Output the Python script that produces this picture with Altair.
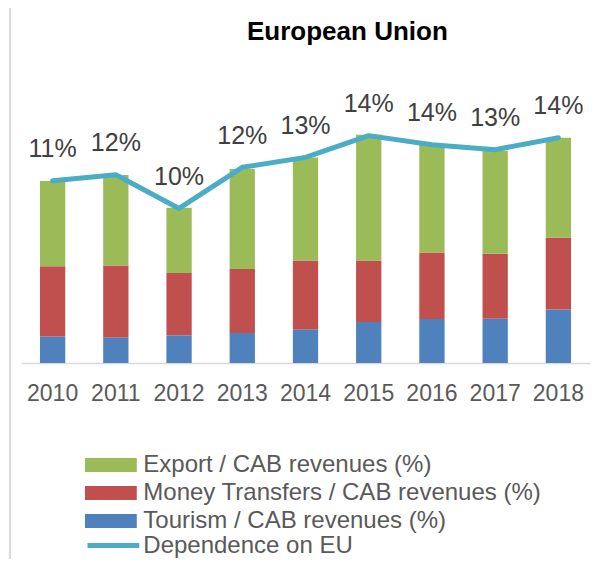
import altair as alt
import pandas as pd

chart_title = "European Union"
years = ["2010", "2011", "2012", "2013", "2014", "2015", "2016", "2017", "2018"]
tourism = [1.66, 1.60, 1.73, 1.88, 2.10, 2.56, 2.75, 2.77, 3.35]
money_transfers = [4.38, 4.50, 3.90, 4.00, 4.31, 3.85, 4.16, 4.06, 4.50]
export = [5.34, 5.65, 4.08, 6.25, 6.44, 7.86, 6.78, 6.44, 6.23]
dependence = [11.39, 11.77, 9.66, 12.23, 12.85, 14.21, 13.64, 13.33, 14.08]

series_names = [
    "Export / CAB revenues (%)",
    "Money Transfers / CAB revenues (%)",
    "Tourism / CAB revenues (%)",
]
series_colors = ["#9bbb59", "#c0504d", "#4f81bd"]
line_name = "Dependence on EU"
line_color = "#4bacc6"

rows = []
for i, yr in enumerate(years):
    rows.append({"year": yr, "series": series_names[2], "value": tourism[i], "ord": 0})
    rows.append({"year": yr, "series": series_names[1], "value": money_transfers[i], "ord": 1})
    rows.append({"year": yr, "series": series_names[0], "value": export[i], "ord": 2})
bars_df = pd.DataFrame(rows)
line_df = pd.DataFrame({"year": years, "dep": dependence, "name": [line_name] * len(years)})
title_df = pd.DataFrame({"t": [chart_title]})

FONT = "Liberation Sans"

x_enc = alt.X(
    "year:N",
    sort=years,
    scale=alt.Scale(paddingInner=0.6, paddingOuter=0.3),
    axis=alt.Axis(
        title=None, labelAngle=0, ticks=False, grid=False,
        domainColor="#d9d9d9", domainWidth=1.5,
        labelFontSize=23, labelColor="#595959", labelFont=FONT,
        labelPadding=37, labelBaseline="alphabetic",
    ),
)
y_scale = alt.Scale(domain=[0, 20], nice=False)

bars = alt.Chart(bars_df).mark_bar().encode(
    x=x_enc,
    y=alt.Y("value:Q", stack="zero", scale=y_scale, axis=None),
    color=alt.Color(
        "series:N",
        scale=alt.Scale(domain=series_names, range=series_colors),
        legend=alt.Legend(
            title=None, orient="none", legendX=75.9, legendY=408,
            symbolType="M-1.85,-0.5H1.85V0.5H-1.85Z", symbolSize=784,
            symbolStrokeWidth=0, symbolOpacity=1,
            labelFontSize=24, labelColor="#595959", labelFont=FONT,
            labelOffset=18.4, rowPadding=2, labelLimit=500,
        ),
    ),
    order=alt.Order("ord:Q"),
)

line = alt.Chart(line_df).mark_line(strokeWidth=5, strokeCap="round", strokeJoin="round").encode(
    x=alt.X("year:N", sort=years),
    y=alt.Y("dep:Q", scale=y_scale, axis=None),
    stroke=alt.Stroke(
        "name:N",
        scale=alt.Scale(domain=[line_name], range=[line_color]),
        legend=alt.Legend(
            title=None, orient="none", legendX=75.9, legendY=486,
            symbolType="M-1.85,0H1.85", symbolSize=784,
            symbolStrokeWidth=5,
            labelFontSize=24, labelColor="#595959", labelFont=FONT,
            labelOffset=13.4, rowPadding=0, labelLimit=500,
        ),
    ),
)

labels = alt.Chart(line_df).transform_calculate(
    label="format(datum.dep, '.0f') + '%'"
).mark_text(
    dy=-23.5, baseline="alphabetic", fontSize=25, color="#404040", font=FONT
).encode(
    x=alt.X("year:N", sort=years),
    y=alt.Y("dep:Q", scale=y_scale, axis=None),
    text="label:N",
)

frame = alt.Chart(line_df).mark_rule(color="#d9d9d9", strokeWidth=1.5).encode(
    x=alt.value(-11), y=alt.value(-35), y2=alt.value(520)
)

title_mark = alt.Chart(title_df).mark_text(
    fontSize=26, font=FONT, fontWeight="bold", color="#000000",
    align="center", baseline="alphabetic",
).encode(
    x=alt.value(326.4), y=alt.value(-3), text="t:N"
)

chart = alt.layer(frame, bars, line, labels, title_mark).properties(
    width=569,
    height=320,
    autosize=alt.AutoSizeParams(type="none"),
    padding={"left": 13, "top": 35, "right": 4, "bottom": 196},
).configure_view(stroke=None)

chart.save("out.html", embed_options={"renderer": "svg", "actions": False})
